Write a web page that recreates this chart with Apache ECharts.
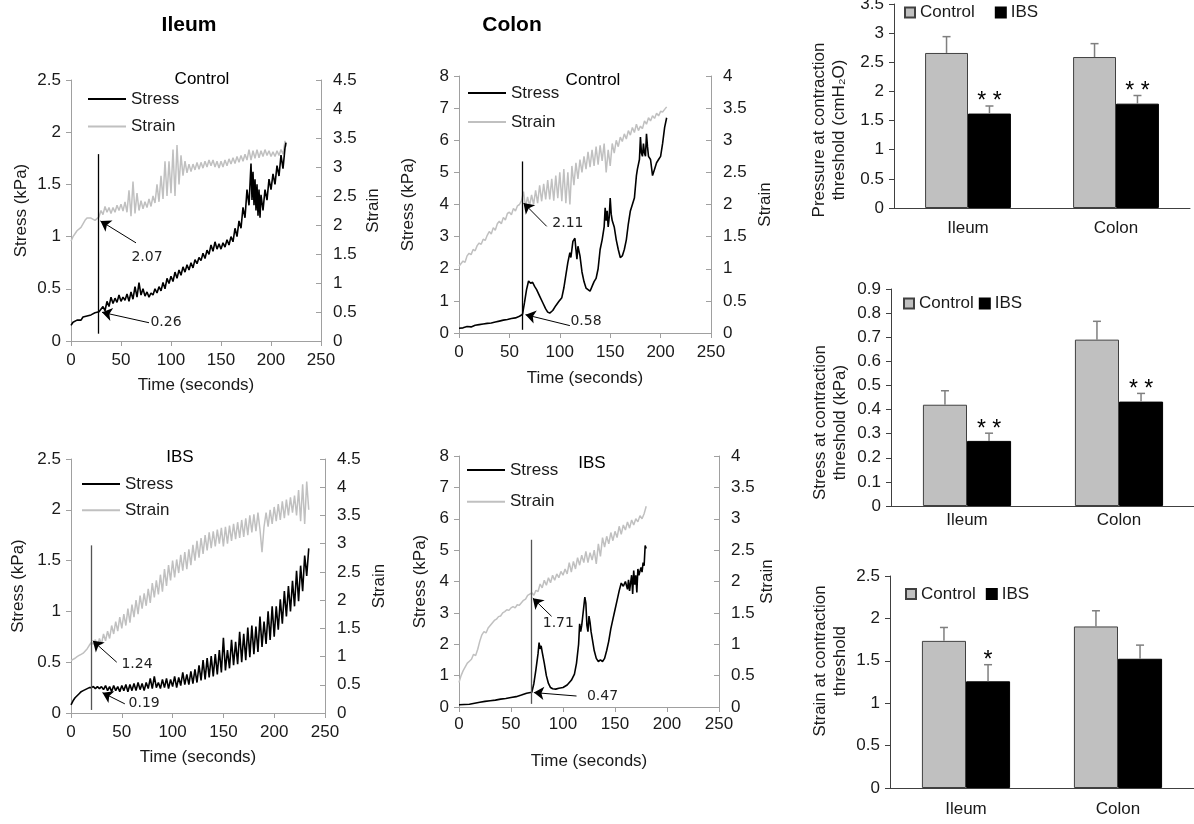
<!DOCTYPE html>
<html><head><meta charset="utf-8">
<script src="https://cdn.jsdelivr.net/npm/echarts@6/dist/echarts.min.js"></script>
<style>html,body{margin:0;padding:0;background:#fff}#c{width:1194px;height:824px}</style>
</head><body><div id="c"></div>
<script>
const FONT = '"Liberation Sans", Arial, sans-serif';

// ---------- Line-chart data: [time (s), value] ----------
const ileumCtrlStress = [[0,0.15],[2,0.18],[4,0.17],[6,0.2],[8,0.21],[10,0.2],[12,0.23],[14,0.22],[16,0.24],[18,0.23],[20,0.25],[22,0.24],[24,0.27],[26,0.26],[28,0.28],[30,0.27],[32,0.33],[34,0.29],[36,0.38],[38,0.33],[40,0.42],[42,0.36],[44,0.41],[46,0.37],[48,0.44],[50,0.38],[52,0.42],[54,0.39],[56,0.45],[58,0.38],[60,0.47],[62,0.4],[64,0.52],[66,0.42],[68,0.56],[70,0.44],[72,0.5],[74,0.43],[76,0.47],[78,0.42],[80,0.46],[82,0.44],[84,0.5],[86,0.46],[88,0.52],[90,0.48],[92,0.56],[94,0.5],[96,0.6],[98,0.55],[100,0.62],[102,0.57],[104,0.66],[106,0.6],[108,0.68],[110,0.63],[112,0.71],[114,0.66],[116,0.73],[118,0.68],[120,0.75],[122,0.7],[124,0.78],[126,0.74],[128,0.8],[130,0.77],[132,0.84],[134,0.79],[136,0.87],[138,0.83],[140,0.92],[142,0.86],[144,0.95],[146,0.88],[148,0.93],[150,0.88],[152,0.94],[154,0.9],[156,0.97],[158,0.92],[160,1.0],[162,0.95],[164,1.08],[166,1.0],[168,1.15],[170,1.08],[172,1.28],[174,1.18],[176,1.45],[178,1.3],[180,1.7],[181,1.35],[182,1.62],[183,1.3],[184,1.55],[185,1.25],[186,1.5],[187,1.2],[188,1.45],[189,1.18],[190,1.4],[192,1.25],[194,1.45],[196,1.35],[198,1.55],[200,1.45],[202,1.6],[204,1.5],[206,1.68],[208,1.58],[210,1.78],[212,1.65],[214,1.85],[215,1.9]];
const ileumCtrlStrain = [[0,1.72],[2,1.8],[4,1.85],[6,1.9],[8,1.93],[10,1.96],[12,2.02],[14,2.08],[16,2.12],[18,2.13],[20,2.12],[22,2.1],[24,2.08],[26,2.1],[28,2.14],[30,2.25],[32,2.18],[34,2.32],[36,2.22],[38,2.3],[40,2.2],[42,2.3],[44,2.22],[46,2.34],[48,2.25],[50,2.36],[52,2.24],[54,2.4],[56,2.22],[58,2.6],[60,2.15],[62,2.75],[64,2.2],[66,2.55],[68,2.25],[70,2.42],[72,2.28],[74,2.4],[76,2.3],[78,2.45],[80,2.32],[82,2.5],[84,2.38],[86,2.7],[88,2.4],[90,2.85],[92,2.45],[94,3.1],[96,2.5],[98,3.1],[100,2.55],[102,3.3],[104,2.5],[106,3.38],[108,2.7],[110,3.2],[112,2.85],[114,3.1],[116,2.9],[118,3.05],[120,2.92],[122,3.05],[124,2.95],[126,3.08],[128,2.96],[130,3.08],[132,2.98],[134,3.1],[136,3.0],[138,3.12],[140,3.02],[142,3.12],[144,3.0],[146,3.1],[148,2.98],[150,3.1],[152,3.0],[154,3.12],[156,3.02],[158,3.14],[160,3.05],[162,3.16],[164,3.06],[166,3.18],[168,3.08],[170,3.2],[172,3.1],[174,3.22],[176,3.12],[178,3.3],[180,3.12],[182,3.28],[184,3.15],[186,3.3],[188,3.16],[190,3.28],[192,3.18],[194,3.3],[196,3.2],[198,3.28],[200,3.18],[202,3.26],[204,3.18],[206,3.28],[208,3.2],[210,3.3],[212,3.22],[214,3.45],[215,3.35]];

const colonCtrlStress = [[0,0.15],[4,0.16],[8,0.2],[12,0.19],[16,0.24],[20,0.26],[24,0.28],[28,0.3],[32,0.31],[36,0.34],[40,0.37],[44,0.4],[48,0.42],[52,0.45],[56,0.47],[60,0.52],[63,0.58],[65,0.95],[67,1.35],[69,1.62],[71,1.55],[73,1.58],[75,1.45],[77,1.35],[80,1.15],[83,0.95],[86,0.75],[88,0.65],[90,0.62],[93,0.7],[96,0.85],[99,0.98],[102,1.1],[104,1.4],[106,1.8],[108,2.2],[110,2.5],[111,2.35],[113,2.85],[115,2.95],[116,2.6],[117,2.3],[118,2.7],[119,2.65],[120,2.4],[122,1.9],[124,1.6],[126,1.4],[128,1.35],[130,1.3],[132,1.45],[134,1.6],[136,1.7],[138,2.0],[140,2.6],[142,2.9],[144,3.3],[145,3.9],[146,3.5],[147,3.8],[148,3.3],[149,3.6],[150,4.2],[151,3.7],[152,3.5],[154,3.3],[156,2.9],[158,2.6],[160,2.35],[162,2.4],[164,2.6],[166,2.9],[168,3.4],[170,3.8],[172,4.0],[174,4.2],[176,4.9],[177,5.1],[178,5.05],[179,5.4],[180,6.1],[181,5.6],[182,5.5],[183,5.9],[184,5.6],[185,5.5],[186,6.2],[187,5.8],[188,5.5],[190,5.4],[192,4.9],[194,5.1],[196,5.3],[198,5.4],[200,5.5],[202,5.9],[204,6.4],[206,6.7]];
const colonCtrlStrain = [[0,1.04],[4,1.12],[6,1.1],[8,1.2],[10,1.24],[12,1.22],[14,1.3],[16,1.28],[18,1.36],[20,1.4],[22,1.38],[24,1.46],[26,1.44],[28,1.52],[30,1.58],[32,1.54],[34,1.64],[36,1.6],[38,1.7],[40,1.74],[42,1.7],[44,1.8],[46,1.76],[48,1.86],[50,1.88],[52,1.84],[54,1.94],[56,1.9],[58,1.98],[60,2.0],[62,2.06],[64,2.2],[66,1.96],[68,2.12],[70,1.98],[72,2.15],[74,2.0],[76,2.22],[78,2.02],[80,2.3],[82,2.05],[84,2.32],[86,2.08],[88,2.38],[90,2.08],[92,2.4],[94,2.06],[96,2.45],[98,2.1],[100,2.5],[102,2.05],[104,2.55],[106,2.02],[108,2.5],[110,2.0],[112,2.6],[114,2.3],[116,2.65],[118,2.4],[120,2.7],[122,2.5],[124,2.75],[126,2.55],[128,2.82],[130,2.58],[132,2.85],[134,2.6],[136,2.9],[138,2.62],[140,2.92],[142,2.68],[144,2.95],[146,2.5],[148,2.85],[150,2.6],[152,2.95],[154,2.8],[156,3.0],[158,2.9],[160,3.05],[162,2.98],[164,3.1],[166,3.02],[168,3.15],[170,3.08],[172,3.2],[174,3.12],[176,3.25],[178,3.15],[180,3.22],[182,3.18],[184,3.3],[186,3.25],[188,3.35],[190,3.3],[192,3.38],[194,3.34],[196,3.42],[198,3.38],[200,3.45],[202,3.44],[204,3.48],[206,3.52]];

const ileumIbsStress = [[0,0.08],[2,0.12],[4,0.15],[6,0.17],[8,0.19],[10,0.21],[12,0.22],[14,0.23],[16,0.24],[18,0.25],[20,0.25],[22,0.26],[24,0.24],[26,0.26],[28,0.24],[30,0.26],[32,0.23],[34,0.27],[36,0.22],[38,0.26],[40,0.21],[42,0.27],[44,0.22],[46,0.26],[48,0.21],[50,0.27],[52,0.22],[54,0.28],[56,0.21],[58,0.28],[60,0.22],[62,0.29],[64,0.22],[66,0.3],[68,0.23],[70,0.29],[72,0.22],[74,0.3],[76,0.24],[78,0.34],[80,0.24],[82,0.36],[84,0.25],[86,0.3],[88,0.24],[90,0.33],[92,0.25],[94,0.34],[96,0.24],[98,0.33],[100,0.26],[102,0.36],[104,0.25],[106,0.35],[108,0.27],[110,0.4],[112,0.28],[114,0.38],[116,0.28],[118,0.41],[120,0.29],[122,0.43],[124,0.3],[126,0.47],[128,0.32],[130,0.52],[132,0.33],[134,0.54],[136,0.35],[138,0.56],[140,0.36],[142,0.58],[144,0.38],[146,0.62],[148,0.4],[150,0.74],[152,0.42],[154,0.62],[156,0.44],[158,0.72],[160,0.47],[162,0.7],[164,0.48],[166,0.8],[168,0.5],[170,0.78],[172,0.52],[174,0.84],[176,0.55],[178,0.86],[180,0.58],[182,0.85],[184,0.6],[186,0.95],[188,0.65],[190,0.9],[192,0.68],[194,1.0],[196,0.72],[198,1.05],[200,0.75],[202,1.05],[204,0.82],[206,1.12],[208,0.88],[210,1.2],[212,0.95],[214,1.25],[216,1.0],[218,1.3],[220,1.05],[222,1.4],[224,1.1],[226,1.45],[228,1.2],[230,1.55],[232,1.35],[234,1.62]];
const ileumIbsStrain = [[0,0.93],[2,0.95],[4,0.97],[6,1.0],[8,1.02],[10,1.04],[12,1.06],[14,1.1],[16,1.14],[18,1.2],[20,1.25],[22,1.22],[24,1.3],[26,1.18],[28,1.32],[30,1.22],[32,1.4],[34,1.28],[36,1.45],[38,1.32],[40,1.55],[42,1.4],[44,1.62],[46,1.45],[48,1.7],[50,1.5],[52,1.75],[54,1.55],[56,1.85],[58,1.6],[60,1.92],[62,1.7],[64,2.0],[66,1.75],[68,2.08],[70,1.85],[72,2.12],[74,1.9],[76,2.2],[78,1.95],[80,2.3],[82,2.05],[84,2.35],[86,2.1],[88,2.45],[90,2.15],[92,2.55],[94,2.25],[96,2.62],[98,2.35],[100,2.7],[102,2.4],[104,2.72],[106,2.48],[108,2.8],[110,2.52],[112,2.85],[114,2.55],[116,2.9],[118,2.62],[120,2.98],[122,2.7],[124,3.05],[126,2.75],[128,3.1],[130,2.82],[132,3.15],[134,2.88],[136,3.2],[138,2.92],[140,3.22],[142,2.95],[144,3.25],[146,3.0],[148,3.28],[150,2.95],[152,3.3],[154,3.0],[156,3.32],[158,3.05],[160,3.35],[162,3.08],[164,3.38],[166,3.1],[168,3.42],[170,3.12],[172,3.45],[174,3.15],[176,3.5],[178,3.2],[180,3.52],[182,3.22],[184,3.55],[186,3.25],[188,2.85],[190,3.3],[192,3.55],[194,3.3],[196,3.6],[198,3.35],[200,3.65],[202,3.4],[204,3.7],[206,3.42],[208,3.75],[210,3.45],[212,3.78],[214,3.5],[216,3.82],[218,3.55],[220,3.85],[222,3.5],[224,3.95],[226,3.4],[228,4.05],[230,3.35],[232,4.1],[234,3.6]];

const colonIbsStress = [[0,0.07],[5,0.08],[10,0.09],[15,0.12],[20,0.15],[25,0.18],[30,0.2],[35,0.22],[40,0.25],[45,0.27],[50,0.3],[55,0.33],[60,0.38],[65,0.44],[70,0.47],[72,0.75],[74,1.2],[76,1.7],[77,2.05],[78,1.85],[79,1.95],[80,1.75],[82,1.4],[84,1.0],[86,0.75],[88,0.62],[90,0.58],[93,0.57],[96,0.6],[100,0.62],[104,0.7],[108,0.85],[111,1.05],[113,1.4],[115,2.0],[116,2.65],[117,2.4],[118,2.6],[119,2.9],[120,3.2],[121,3.5],[122,3.3],[123,2.6],[124,2.4],[125,2.9],[126,2.7],[127,2.4],[128,2.2],[130,1.8],[132,1.55],[134,1.45],[136,1.5],[138,1.45],[140,1.55],[142,1.8],[144,2.1],[146,2.5],[148,2.8],[150,3.1],[152,3.4],[154,3.7],[156,3.95],[158,3.85],[160,4.0],[162,3.75],[163,4.05],[164,3.7],[166,4.2],[167,3.6],[168,4.35],[169,3.9],[170,4.2],[171,3.65],[172,4.4],[173,4.2],[175,4.45],[176,4.3],[177,4.6],[178,4.5],[179,5.15],[180,5.05]];
const colonIbsStrain = [[0,0.39],[2,0.5],[4,0.58],[6,0.64],[8,0.7],[10,0.73],[12,0.76],[14,0.84],[16,0.82],[18,0.92],[20,1.05],[22,1.15],[24,1.2],[26,1.18],[28,1.26],[30,1.3],[32,1.34],[34,1.38],[36,1.4],[38,1.44],[40,1.45],[42,1.5],[44,1.52],[46,1.55],[48,1.54],[50,1.58],[52,1.6],[54,1.58],[56,1.63],[58,1.62],[60,1.66],[62,1.7],[64,1.72],[66,1.78],[68,1.8],[70,1.82],[72,1.78],[74,1.86],[76,1.84],[78,1.96],[80,1.9],[82,2.02],[84,1.94],[86,2.06],[88,1.98],[90,2.1],[92,2.02],[94,2.12],[96,2.06],[98,2.16],[100,2.1],[102,2.2],[104,2.12],[106,2.3],[108,2.15],[110,2.32],[112,2.2],[114,2.38],[116,2.26],[118,2.42],[120,2.3],[122,2.48],[124,2.3],[126,2.46],[128,2.34],[130,2.5],[132,2.28],[134,2.6],[136,2.4],[138,2.7],[140,2.55],[142,2.72],[144,2.6],[146,2.78],[148,2.65],[150,2.8],[152,2.7],[154,2.88],[156,2.75],[158,2.9],[160,2.82],[162,2.95],[164,2.85],[166,2.98],[168,2.9],[170,3.0],[172,2.95],[174,3.05],[176,3.0],[178,3.08],[180,3.2]];

// threshold markers: [time, stressFrom, stressTo]
const ileumCtrlMarker = [27.3, 0.07, 1.79];
const colonCtrlMarker = [63, 0.1, 5.34];
const ileumIbsMarker = [19.7, 0.03, 1.65];
const colonIbsMarker = [69.6, 0.1, 5.33];
// annotations: [text, arrowFrom, arrowTo, textAt]  (time, stress)
const ileumCtrlNotes = [['2.07',[65,0.94],[29.5,1.15],[76,0.8]], ['0.26',[78,0.175],[31,0.275],[95,0.175]]];
const colonCtrlNotes = [['2.11',[87,3.32],[64,4.05],[108,3.42]], ['0.58',[110,0.23],[66,0.57],[126,0.36]]];
const ileumIbsNotes = [['1.24',[45,0.5],[21.5,0.71],[65,0.48]], ['0.19',[53,0.09],[31,0.2],[72,0.09]]];
const colonIbsNotes = [['1.71',[89,2.89],[71,3.47],[95.5,2.67]], ['0.47',[113,0.35],[72,0.46],[138,0.35]]];

// ---------- Bar-chart data ----------
const barCategories = ['Ileum', 'Colon'];
const pressureControl = [2.66, 2.59];
const pressureControlErr = [0.28, 0.23];
const pressureIBS = [1.62, 1.79];
const pressureIBSErr = [0.13, 0.14];
const pressureSig = ['**', '**'];
const stressControl = [0.42, 0.69];
const stressControlErr = [0.058, 0.076];
const stressIBS = [0.27, 0.433];
const stressIBSErr = [0.032, 0.034];
const stressSig = ['**', '**'];
const strainControl = [1.735, 1.905];
const strainControlErr = [0.158, 0.185];
const strainIBS = [1.258, 1.524];
const strainIBSErr = [0.196, 0.161];
const strainSig = ['*', ''];

// ---------- Layout ----------
const TXT = '#1a1a1a';
const AX = '#a0a0a0';
const panels = [
  {stress: ileumCtrlStress, strain: ileumCtrlStrain, yMax: 2.5, yInt: 0.5, y2Max: 4.5, marker: ileumCtrlMarker, notes: ileumCtrlNotes, markerColor: '#000',
   grid: {left:71, top:80, width:250, height:261}, legend: {left:87, top:90.5, itemGap:10.5}, yGap:41, y2Gap:44, xGap:36, xMargin:11},
  {stress: colonCtrlStress, strain: colonCtrlStrain, yMax: 8, yInt: 1, y2Max: 4, marker: colonCtrlMarker, notes: colonCtrlNotes, markerColor: '#000',
   grid: {left:459, top:76, width:252, height:257}, legend: {left:467, top:84.5, itemGap:12}, yGap:42, y2Gap:46, xGap:37, xMargin:11},
  {stress: ileumIbsStress, strain: ileumIbsStrain, yMax: 2.5, yInt: 0.5, y2Max: 4.5, marker: ileumIbsMarker, notes: ileumIbsNotes, markerColor: '#555',
   grid: {left:71, top:459, width:254, height:254}, legend: {left:81, top:475.5, itemGap:9.3}, yGap:44, y2Gap:46, xGap:36, xMargin:11},
  {stress: colonIbsStress, strain: colonIbsStrain, yMax: 8, yInt: 1, y2Max: 4, marker: colonIbsMarker, notes: colonIbsNotes, markerColor: '#555',
   grid: {left:459, top:456, width:260, height:251}, legend: {left:466, top:461.5, itemGap:14.7}, yGap:30, y2Gap:38, xGap:46, xMargin:9}
];
const bars = [
  {ctrl: pressureControl, ctrlErr: pressureControlErr, ibs: pressureIBS, ibsErr: pressureIBSErr, sig: pressureSig, max: 3.5, int: 0.5,
   name: 'Pressure at contraction\nthreshold (cmH\u2082O)', pad: [0,48,0,0], grid: {left:894, top:4, width:296, height:204},
   legend: {left:904, top:4, itemGap:20}, nameGap:45, xMargin:12},
  {ctrl: stressControl, ctrlErr: stressControlErr, ibs: stressIBS, ibsErr: stressIBSErr, sig: stressSig, max: 0.9, int: 0.1,
   name: 'Stress at contraction\nthreshold (kPa)', pad: [0,50,0,0], grid: {left:891, top:289, width:304, height:217},
   legend: {left:903, top:295, itemGap:5}, nameGap:41, xMargin:6},
  {ctrl: strainControl, ctrlErr: strainControlErr, ibs: strainIBS, ibsErr: strainIBSErr, sig: strainSig, max: 2.5, int: 0.5,
   name: 'Strain at contraction\nthreshold', pad: [0,0,0,42], grid: {left:890, top:576, width:304, height:212},
   legend: {left:905, top:585.5, itemGap:10}, nameGap:40, xMargin:13}
];

const grids = [], xAxes = [], yAxes = [], series = [], legends = [];
const labelStyle = {fontSize: 17, color: TXT, fontFamily: FONT};

panels.forEach((p, i) => {
  grids.push(Object.assign({containLabel: false, outerBoundsMode: 'none'}, p.grid));
  xAxes.push({type: 'value', gridIndex: i, min: 0, max: 250, interval: 50,
    axisLine: {show: true, lineStyle: {color: AX, width: 1}}, axisTick: {show: true, length: 5, lineStyle: {color: AX}},
    splitLine: {show: false}, axisLabel: Object.assign({margin: p.xMargin}, labelStyle),
    name: 'Time (seconds)', nameLocation: 'middle', nameGap: p.xGap, nameTextStyle: labelStyle});
  yAxes.push({type: 'value', gridIndex: i, position: 'left', min: 0, max: p.yMax, interval: p.yInt,
    axisLine: {show: true, lineStyle: {color: AX, width: 1}}, axisTick: {show: true, length: 5, lineStyle: {color: AX}},
    splitLine: {show: false}, axisLabel: Object.assign({margin: 10}, labelStyle),
    name: 'Stress (kPa)', nameLocation: 'middle', nameGap: p.yGap, nameRotate: 90, nameTextStyle: labelStyle});
  yAxes.push({type: 'value', gridIndex: i, position: 'right', min: 0, max: p.y2Max, interval: 0.5,
    axisLine: {show: true, lineStyle: {color: AX, width: 1}}, axisTick: {show: true, inside: true, length: 5, lineStyle: {color: AX}},
    splitLine: {show: false}, axisLabel: Object.assign({margin: 12}, labelStyle),
    name: 'Strain', nameLocation: 'middle', nameGap: p.y2Gap, nameRotate: 90, nameTextStyle: labelStyle});
  series.push({type: 'line', name: 'Strain', xAxisIndex: i, yAxisIndex: 2*i+1, data: p.strain, symbol: 'none',
    lineStyle: {color: '#c0c0c0', width: 1.5}, itemStyle: {color: '#c0c0c0'}, z: 2, silent: true});
  const ml = [[{coord: [p.marker[0], p.marker[1]]}, {coord: [p.marker[0], p.marker[2]]}]];
  p.notes.forEach(n => ml.push([{coord: n[1], lineStyle: {color: '#000', width: 1}}, {coord: n[2], symbol: 'arrow', symbolSize: 10}]));
  series.push({type: 'line', name: 'Stress', xAxisIndex: i, yAxisIndex: 2*i, data: p.stress, symbol: 'none',
    lineStyle: {color: '#000', width: 1.6}, itemStyle: {color: '#000'}, z: 3, silent: true,
    markLine: {silent: true, animation: false, symbol: ['none', 'none'], label: {show: false},
      lineStyle: {color: p.markerColor, width: 1.3, type: 'solid'}, emphasis: {disabled: true}, data: ml},
    markPoint: {silent: true, animation: false, symbol: 'circle', symbolSize: 0,
      label: {show: true, position: 'inside', formatter: q => q.name, fontSize: 14, color: '#222', fontFamily: '"DejaVu Sans", sans-serif'},
      data: p.notes.map(n => ({name: n[0], coord: n[3]}))}});
  legends.push({orient: 'vertical', left: p.legend.left, top: p.legend.top, itemGap: p.legend.itemGap, padding: 0,
    itemWidth: 38, itemHeight: 14, selectedMode: false, data: ['Stress', 'Strain'], textStyle: labelStyle,
    itemStyle: {opacity: 0, borderWidth: 0}});
});

bars.forEach((b, j) => {
  const gi = 4 + j, yi = 8 + j;
  grids.push(Object.assign({containLabel: false, outerBoundsMode: 'none'}, b.grid));
  xAxes.push({type: 'category', gridIndex: gi, data: barCategories,
    axisLine: {show: true, lineStyle: {color: '#404040', width: 1}}, axisTick: {show: false},
    axisLabel: Object.assign({margin: b.xMargin}, labelStyle), splitLine: {show: false}});
  yAxes.push({type: 'value', gridIndex: gi, min: 0, max: b.max, interval: b.int,
    axisLine: {show: true, lineStyle: {color: '#404040', width: 1}}, axisTick: {show: true, length: 5, lineStyle: {color: '#404040'}},
    splitLine: {show: false}, axisLabel: Object.assign({margin: 10}, labelStyle),
    name: b.name, nameLocation: 'middle', nameGap: b.nameGap, nameRotate: 90,
    nameTextStyle: Object.assign({lineHeight: 20, padding: b.pad, align: 'center'}, labelStyle)});
  series.push({type: 'bar', name: 'Control', xAxisIndex: gi, yAxisIndex: yi, data: b.ctrl, barWidth: '29%', barGap: '0%',
    itemStyle: {color: '#c0c0c0', borderColor: '#404040', borderWidth: 1}, silent: true, z: 2});
  series.push({type: 'bar', name: 'IBS', xAxisIndex: gi, yAxisIndex: yi, data: b.ibs, barWidth: '29%', barGap: '0%',
    itemStyle: {color: '#000', borderColor: '#000', borderWidth: 1}, silent: true, z: 2});
  [[b.ctrl, b.ctrlErr, null, -1], [b.ibs, b.ibsErr, b.sig, 1]].forEach(([vals, errs, sig, sign]) => {
    series.push({type: 'custom', name: 'err', xAxisIndex: gi, yAxisIndex: yi, z: 5, silent: true, clip: false,
      data: vals.map((v, k) => [k, v, errs[k]]),
      renderItem(params, api) {
        const k = api.value(0), v = api.value(1), e = api.value(2);
        const base = api.coord([k, v]), top = api.coord([k, v + e]);
        const band = api.size([1, 0])[0];
        const cx = base[0] + sign * band * 0.145;
        const ch = [
          {type: 'line', shape: {x1: cx, y1: base[1], x2: cx, y2: top[1]}, style: {stroke: '#7f7f7f', lineWidth: 1.5}},
          {type: 'line', shape: {x1: cx - 4, y1: top[1], x2: cx + 4, y2: top[1]}, style: {stroke: '#7f7f7f', lineWidth: 1.5}}
        ];
        const s = sig ? sig[params.dataIndex] : '';
        if (s) ch.push({type: 'text', style: {x: cx, y: top[1] - 4, text: s.split('').join(' '), fontSize: 23, fontFamily: FONT,
          fill: '#000', align: 'center', verticalAlign: 'middle', textAlign: 'center', textVerticalAlign: 'middle'}});
        return {type: 'group', children: ch};
      }});
  });
  legends.push({orient: 'horizontal', left: b.legend.left, top: b.legend.top, itemGap: b.legend.itemGap, padding: 0,
    itemWidth: 10, itemHeight: 10, icon: 'rect', selectedMode: false, data: ['Control', 'IBS'], textStyle: labelStyle});
});

const titleText = (t, x, y, size, weight) => ({type: 'text', x: x, y: y, silent: true,
  style: {text: t, fontSize: size, fontWeight: weight, fontFamily: FONT, fill: '#000', align: 'center', verticalAlign: 'middle',
          textAlign: 'center', textVerticalAlign: 'middle'}});

const chart = echarts.init(document.getElementById('c'));
chart.setOption({
  animation: false,
  backgroundColor: '#fff',
  textStyle: {fontFamily: FONT},
  grid: grids, xAxis: xAxes, yAxis: yAxes, series: series, legend: legends,
  graphic: [
    titleText('Ileum', 189, 25, 21, 'bold'),
    titleText('Colon', 512, 25, 21, 'bold'),
    titleText('Control', 202, 79, 17, 'normal'),
    titleText('Control', 593, 80, 17, 'normal'),
    titleText('IBS', 180, 457, 17, 'normal'),
    titleText('IBS', 592, 463, 17, 'normal')
  ]
});
</script></body></html>
